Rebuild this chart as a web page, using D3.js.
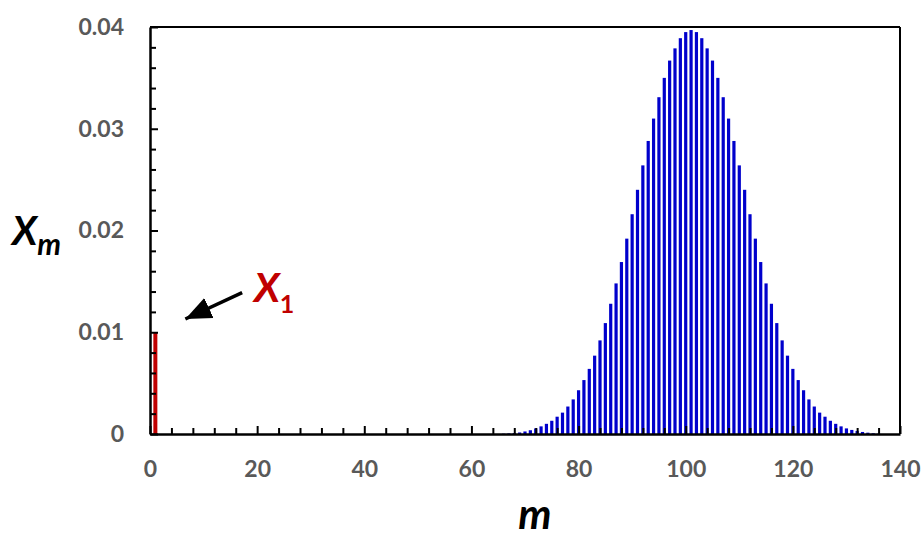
<!DOCTYPE html>
<html>
<head>
	<meta charset="utf-8">
	<title>X_m distribution</title>
	<script src="https://d3js.org/d3.v7.min.js"></script>
	<style>
		body { margin: 0; background: #fff; }
		svg text { font-family: Lato, "Open Sans", sans-serif; }
	</style>
</head>
<body>
<svg id="chart" width="923" height="533"></svg>
<script>

// values
var mValues = [66, 67, 68, 69, 70, 71, 72, 73, 74, 75, 76, 77, 78, 79, 80, 81, 82, 83, 84, 85,
	86, 87, 88, 89, 90, 91, 92, 93, 94, 95, 96, 97, 98, 99, 100, 101, 102, 103, 104, 105,
	106, 107, 108, 109, 110, 111, 112, 113, 114, 115, 116, 117, 118, 119, 120, 121, 122, 123, 124, 125,
	126, 127, 128, 129, 130, 131, 132, 133, 134, 135, 136];
var xmValues = [0.00003, 0.00006, 0.0001, 0.00015, 0.00025, 0.00037, 0.00055, 0.00075, 0.0010, 0.0013,
	0.0017, 0.0021, 0.0027, 0.0034, 0.0043, 0.0053, 0.0064, 0.0077, 0.0092, 0.0109,
	0.0128, 0.0148, 0.0169, 0.0192, 0.0216, 0.0240, 0.0264, 0.0288, 0.0310, 0.0331,
	0.0350, 0.0367, 0.0379, 0.0389, 0.0395, 0.0397, 0.0395, 0.0389, 0.0379, 0.0367,
	0.0350, 0.0331, 0.0310, 0.0288, 0.0264, 0.0240, 0.0216, 0.0192, 0.0169, 0.0148,
	0.0128, 0.0109, 0.0092, 0.0077, 0.0064, 0.0053, 0.0043, 0.0034, 0.0027, 0.0021,
	0.0017, 0.0013, 0.0010, 0.00075, 0.00055, 0.0004, 0.0003, 0.0002, 0.00013, 0.00007, 0.00003];

// the single red bar X_1
var firstM = [1];
var firstValue = [0.01];

var xTicks = [0, 20, 40, 60, 80, 100, 120, 140];
var xTickLabels = ["0", "20", "40", "60", "80", "100", "120", "140"];
var xMinorTicks = [4, 8, 12, 16, 24, 28, 32, 36, 44, 48, 52, 56, 64, 68, 72, 76, 84, 88, 92, 96, 104, 108, 112, 116, 124, 128, 132, 136];
var yTicks = [0, 0.01, 0.02, 0.03, 0.04];
var yTickLabels = ["0", "0.01", "0.02", "0.03", "0.04"];
var yMinorTicks = [0.002, 0.004, 0.006, 0.008, 0.012, 0.014, 0.016, 0.018, 0.022, 0.024, 0.026, 0.028, 0.032, 0.034, 0.036, 0.038];

// arrow pointing at X_1, in data units (tail, tip)
var arrowTail = [17.2, 0.0139];
var arrowTip = [6.6, 0.0113];

var svg = d3.select("#chart");

// note: "top" is taken by window.top, so plot edges get their own names
var plotLeft = 150, plotRight = 900, plotTop = 27, plotBottom = 434;

var x = d3.scaleLinear().domain([0, 140]).range([plotLeft, plotRight]);
var y = d3.scaleLinear().domain([0, 0.04]).range([plotBottom, plotTop]);

var barW = 3.2;

//----- bars
var blue = mValues.map(function(m, i) { return { m: m, v: xmValues[i] }; });
svg.append("g").selectAll("rect")
	.data(blue)
	.enter().append("rect")
		.attr("x", function(d) { return x(d.m) - barW / 2; })
		.attr("y", function(d) { return y(d.v); })
		.attr("width", barW)
		.attr("height", function(d) { return y(0) - y(d.v); })
		.style("fill", "#0000cc");

svg.append("g").selectAll("rect")
	.data(firstM.map(function(m, i) { return { m: m, v: firstValue[i] }; }))
	.enter().append("rect")
		.attr("x", function(d) { return x(d.m) - 2; })
		.attr("y", function(d) { return y(d.v); })
		.attr("width", 4)
		.attr("height", function(d) { return y(0) - y(d.v); })
		.style("fill", "#c00000");

//----- frame (top and right)
svg.append("line")
	.attr("x1", plotLeft).attr("x2", plotRight).attr("y1", plotTop).attr("y2", plotTop)
	.attr("stroke", "#000").attr("stroke-width", 2);
svg.append("line")
	.attr("x1", plotRight).attr("x2", plotRight).attr("y1", plotTop).attr("y2", plotBottom)
	.attr("stroke", "#000").attr("stroke-width", 2);

//----- axes
var gx = svg.append("g")
	.attr("transform", "translate(0," + plotBottom + ")")
	.call(d3.axisBottom(x).tickValues(xTicks).tickSizeInner(-8).tickSizeOuter(0).tickPadding(27)
		.tickFormat(function(d, i) { return xTickLabels[i]; }));
svg.append("g")
	.attr("transform", "translate(0," + plotBottom + ")")
	.call(d3.axisBottom(x).tickValues(xMinorTicks).tickSizeInner(-6).tickSizeOuter(0).tickFormat(""))
	.select(".domain").remove();

var gy = svg.append("g")
	.attr("transform", "translate(" + plotLeft + ",0)")
	.call(d3.axisLeft(y).tickValues(yTicks).tickSizeInner(-8).tickSizeOuter(0).tickPadding(26)
		.tickFormat(function(d, i) { return yTickLabels[i]; }));
svg.append("g")
	.attr("transform", "translate(" + plotLeft + ",0)")
	.call(d3.axisLeft(y).tickValues(yMinorTicks).tickSizeInner(-6).tickSizeOuter(0).tickFormat(""))
	.select(".domain").remove();

svg.selectAll(".tick line").attr("stroke", "#000").attr("stroke-width", 2);
gx.select(".domain").attr("stroke", "#000").attr("stroke-width", 2.5);
gy.select(".domain").attr("stroke", "#000").attr("stroke-width", 2.5);
svg.selectAll(".tick text")
	.attr("font-family", "Lato, sans-serif")
	.attr("font-size", "23px")
	.attr("font-weight", "bold")
	.attr("fill", "#595959");

//----- axis titles
var ylab = svg.append("text")
	.attr("x", 12).attr("y", 245)
	.attr("font-size", "40px").attr("font-weight", "bold").attr("font-style", "italic")
	.attr("fill", "#000");
ylab.append("tspan").text("X");
ylab.append("tspan").attr("dy", 10).attr("font-size", "30px").text("m");

svg.append("text")
	.attr("x", 535).attr("y", 529)
	.attr("text-anchor", "middle")
	.attr("font-size", "42px").attr("font-weight", "bold").attr("font-style", "italic")
	.attr("fill", "#000")
	.text("m");

//----- annotation
svg.append("defs").append("marker")
	.attr("id", "head")
	.attr("markerUnits", "userSpaceOnUse")
	.attr("markerWidth", 28).attr("markerHeight", 24)
	.attr("refX", 26).attr("refY", 12)
	.attr("orient", "auto")
	.append("path")
	.attr("d", "M0,1 L26,12 L0,23 Z")
	.attr("fill", "#000");

svg.append("line")
	.attr("x1", x(arrowTail[0])).attr("y1", y(arrowTail[1]))
	.attr("x2", x(arrowTip[0])).attr("y2", y(arrowTip[1]))
	.attr("stroke", "#000").attr("stroke-width", 3.5)
	.attr("marker-end", "url(#head)");

var x1lab = svg.append("text")
	.attr("x", 254).attr("y", 302)
	.attr("font-size", "41px").attr("font-weight", "bold").attr("font-style", "italic")
	.attr("fill", "#c00000");
x1lab.append("tspan").text("X");
x1lab.append("tspan").attr("dy", 11).attr("font-size", "25px").attr("font-style", "normal").text("1");

</script>
</body>
</html>
